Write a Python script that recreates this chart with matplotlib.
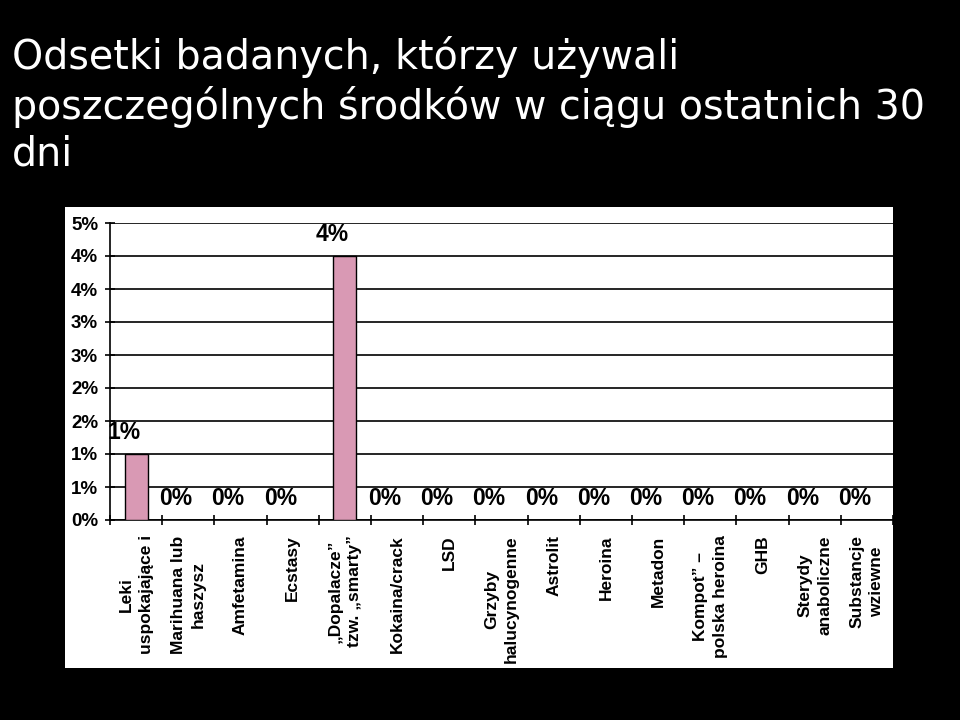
import matplotlib
matplotlib.use('Agg')
import matplotlib.pyplot as plt
from matplotlib.patches import Rectangle

categories = ['Leki\nuspokajające i', 'Marihuana lub\nhaszysz', 'Amfetamina', 'Ecstasy',
              '„Dopalacze”\ntzw. „smarty”', 'Kokaina/crack', 'LSD', 'Grzyby\nhalucynogenne',
              'Astrolit', 'Heroina', 'Metadon', 'Kompot” –\npolska heroina', 'GHB',
              'Sterydy\nanaboliczne', 'Substancje\nwziewne']
values = [1, 0, 0, 0, 4, 0, 0, 0, 0, 0, 0, 0, 0, 0, 0]
value_labels = ['1%', '0%', '0%', '0%', '4%', '0%', '0%', '0%', '0%', '0%', '0%', '0%', '0%', '0%', '0%']
ytick_values = [0, 0.5, 1, 1.5, 2, 2.5, 3, 3.5, 4, 4.5]
ytick_labels = ['0%', '1%', '1%', '2%', '2%', '3%', '3%', '4%', '4%', '5%']

W, H = 960, 720
fig = plt.figure(figsize=(9.6, 7.2), dpi=100)
fig.patch.set_facecolor('black')

# white chart panel behind the axes
fig.patches.append(Rectangle((65 / W, 1 - 668 / H), (893 - 65) / W, (668 - 207) / H,
                             transform=fig.transFigure, facecolor='white', edgecolor='none', zorder=-10))

fig.text(12 / W, 1 - 36 / H,
         'Odsetki badanych, którzy używali\nposzczególnych środków w ciągu ostatnich 30\ndni',
         color='white', fontsize=28.5, family='DejaVu Sans', va='top', ha='left', linespacing=1.23)

ax = fig.add_axes([110 / W, 1 - 520 / H, (893 - 110) / W, (520 - 223) / H])
ax.set_facecolor('white')

x = list(range(len(categories)))
ax.bar(x, values, width=0.44, color='#D999B4', edgecolor='black', linewidth=1, zorder=3)

for xi, v, lab in zip(x, values, value_labels):
    ax.annotate(lab, (xi, v), xytext=(-9, 7), textcoords='offset points',
                ha='center', va='bottom', fontsize=16.5, fontweight='bold',
                family='Liberation Sans', color='black', zorder=4, annotation_clip=False)

ax.set_xlim(-0.5, len(categories) - 0.5)
ax.set_ylim(0, 4.5)
ax.set_yticks(ytick_values)
ax.set_yticklabels(ytick_labels, fontsize=13.5, fontweight='bold', family='Liberation Sans')
ax.yaxis.grid(True, color='black', linewidth=1.2)
ax.set_axisbelow(True)

ax.set_xticks([i + 0.5 for i in range(-1, len(categories))], minor=False)
ax.set_xticklabels([])
ax.set_xticks(x, minor=True)
ax.set_xticklabels(categories, minor=True, rotation=90, ha='center', va='top',
                   multialignment='center', fontsize=12.5, fontweight='bold',
                   family='Liberation Sans', linespacing=1.4)
ax.tick_params(axis='x', which='major', direction='inout', length=7, width=1.2, color='black')
ax.tick_params(axis='x', which='minor', length=0, pad=11)
ax.tick_params(axis='y', direction='inout', length=7, width=1.2, color='black', pad=5)

for side in ['top', 'right']:
    ax.spines[side].set_visible(False)
ax.spines['left'].set_linewidth(1.2)
ax.spines['bottom'].set_linewidth(1.2)

fig.savefig('out.png', dpi=100, facecolor='black')
